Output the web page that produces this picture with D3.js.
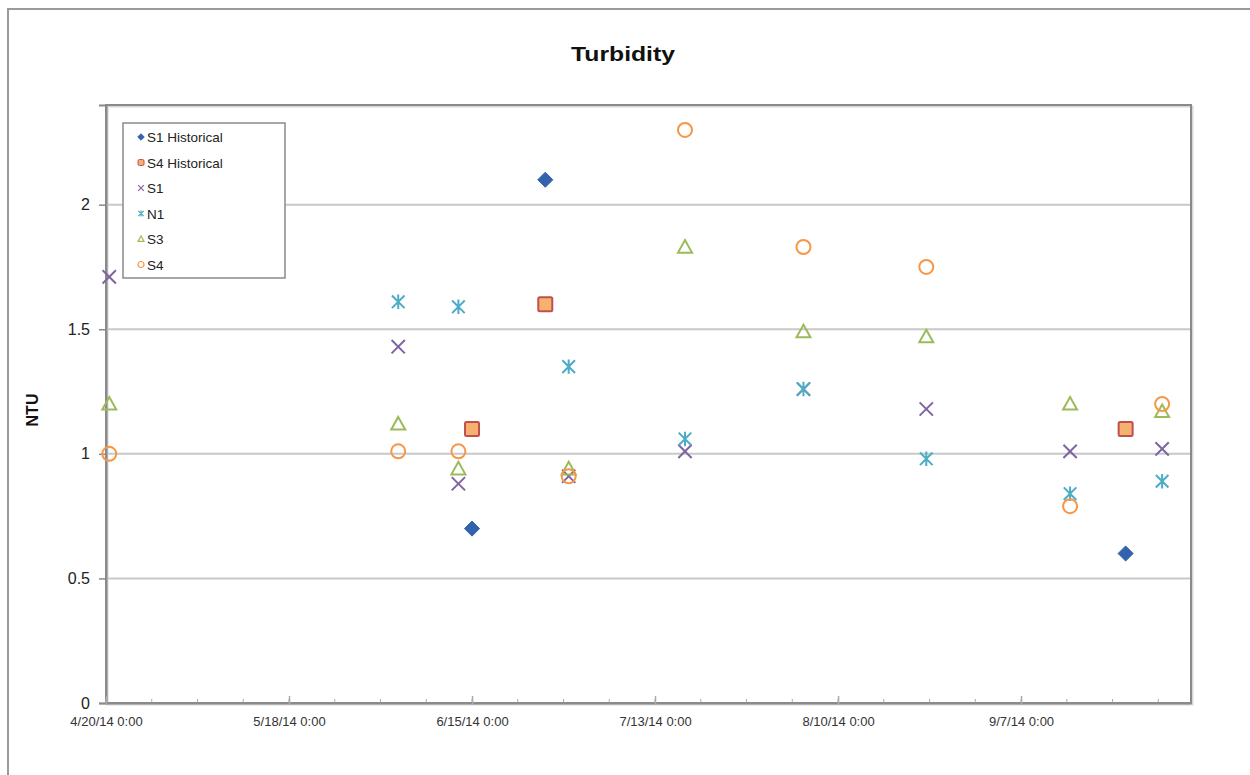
<!DOCTYPE html>
<html>
<head>
<meta charset="utf-8">
<script src="https://cdn.jsdelivr.net/npm/d3@7"></script>
<style>
  html, body { margin: 0; padding: 0; background: #fff; }
  svg { display: block; font-family: "Liberation Sans", Arial, sans-serif; }
</style>
</head>
<body>
<svg id="chart" width="1250" height="775"></svg>
<script>
// ---------- data ----------
const title = "Turbidity";
const yLabel = "NTU";
const sampleDates = ["2014-04-20T12:00", "2014-06-03T17:00", "2014-06-12T22:00", "2014-06-29T19:00",
  "2014-07-17T14:00", "2014-08-04T17:00", "2014-08-23T12:00", "2014-09-14T12:00", "2014-09-28T14:00"];
const historicalDates = ["2014-06-15T00:00", "2014-06-26T05:00", "2014-09-23T00:00"];
const s1HistValues = [0.70, 2.10, 0.60];
const s4HistValues = [1.10, 1.60, 1.10];
const s1Values = [1.71, 1.43, 0.88, 0.91, 1.01, 1.26, 1.18, 1.01, 1.02];
const n1Values = [null, 1.61, 1.59, 1.35, 1.06, 1.26, 0.98, 0.84, 0.89];
const s3Values = [1.20, 1.12, 0.94, 0.94, 1.83, 1.49, 1.47, 1.20, 1.17];
const s4Values = [1.00, 1.01, 1.01, 0.91, 2.30, 1.83, 1.75, 0.79, 1.20];
const yTicks = [0, 0.5, 1, 1.5, 2];
const xTickDates = ["2014-04-20", "2014-05-18", "2014-06-15", "2014-07-13", "2014-08-10", "2014-09-07"];
const xDomain = ["2014-04-20", "2014-10-03"];
const yDomain = [0, 2.4];

// ---------- layout ----------
const svg = d3.select("#chart");
const parse = d3.isoParse;
const plot = { left: 106, right: 1191, top: 105, bottom: 703 };
const x = d3.scaleTime().domain(xDomain.map(d => parse(d))).range([plot.left, plot.right]);
const y = d3.scaleLinear().domain(yDomain).range([plot.bottom, plot.top]);

// outer chart frame
svg.append("rect").attr("x", 8).attr("y", 9).attr("width", 1300).attr("height", 900)
  .attr("fill", "none").attr("stroke", "#9a9a9a").attr("stroke-width", 2);

// title
svg.append("text").attr("x", 623).attr("y", 61).attr("text-anchor", "middle")
  .attr("font-size", 20).attr("font-weight", "bold").attr("fill", "#111")
  .attr("textLength", 104).attr("lengthAdjust", "spacingAndGlyphs").text(title);

// gridlines
svg.append("g").selectAll("line").data(yTicks.filter(d => d > 0)).join("line")
  .attr("x1", plot.left).attr("x2", plot.right)
  .attr("y1", d => y(d)).attr("y2", d => y(d))
  .attr("stroke", "#c8c8c8").attr("stroke-width", 2);

// plot area border (with soft shadow)
svg.append("rect").attr("x", plot.left + 1.5).attr("y", plot.top + 1.5)
  .attr("width", plot.right - plot.left).attr("height", plot.bottom - plot.top)
  .attr("fill", "none").attr("stroke", "#d8d8d8").attr("stroke-width", 2);
svg.append("rect").attr("x", plot.left).attr("y", plot.top)
  .attr("width", plot.right - plot.left).attr("height", plot.bottom - plot.top)
  .attr("fill", "none").attr("stroke", "#8a8a8a").attr("stroke-width", 2);

// y axis
const yAxis = d3.axisLeft(y).tickValues(yTicks).tickSize(7).tickPadding(9)
  .tickFormat(d3.format("~g"));
const gy = svg.append("g").attr("transform", `translate(${plot.left},0)`).call(yAxis);
gy.select(".domain").attr("stroke", "#8a8a8a").attr("stroke-width", 2);
gy.selectAll(".tick line").attr("stroke", "#8a8a8a").attr("stroke-width", 1.5);
gy.selectAll(".tick text").attr("font-size", 16).attr("fill", "#222")
  .attr("font-family", "Liberation Sans, Arial, sans-serif");

// x axis: major ticks every 28 days, minor weekly
const majorTicks = xTickDates.map(d => parse(d));
const minorTicks = d3.timeDay.range(parse(xDomain[0]), parse(xDomain[1]), 7);
svg.append("g").selectAll("line").data(minorTicks).join("line")
  .attr("x1", d => x(d)).attr("x2", d => x(d))
  .attr("y1", plot.bottom - 4).attr("y2", plot.bottom)
  .attr("stroke", "#aaa").attr("stroke-width", 1);
const xAxis = d3.axisBottom(x).tickValues(majorTicks).tickSize(0).tickPadding(14)
  .tickFormat(d => d3.timeFormat("%-m/%-d/%y 0:00")(d));
const gx = svg.append("g").attr("transform", `translate(0,${plot.bottom})`).call(xAxis);
gx.select(".domain").attr("stroke", "#8a8a8a").attr("stroke-width", 2);
gx.selectAll(".tick line").remove();
gx.selectAll(".tick").append("line").attr("y1", -7).attr("y2", 2)
  .attr("stroke", "#aaa").attr("stroke-width", 1.5);
gx.selectAll(".tick text").attr("font-size", 13).attr("fill", "#333")
  .attr("font-family", "Liberation Sans, Arial, sans-serif");

// y-axis title
svg.append("text").attr("transform", "translate(38,410) rotate(-90)")
  .attr("text-anchor", "middle").attr("font-size", 16).attr("font-weight", "bold")
  .attr("fill", "#111").text(yLabel);

// ---------- markers ----------
function xPath(s) { const h = s / 2; return `M${-h},${-h}L${h},${h}M${-h},${h}L${h},${-h}`; }
function starPath(s) { const h = s / 2; return `M${-h},${-h}L${h},${h}M${-h},${h}L${h},${-h}M0,${-h * 1.15}L0,${h * 1.15}`; }

const series = [
  { name: "S1 Historical", dates: historicalDates, values: s1HistValues, kind: "diamond", fill: "#3463ad", stroke: "#3463ad" },
  { name: "S4 Historical", dates: historicalDates, values: s4HistValues, kind: "square", fill: "#f6b06f", stroke: "#c0504d" },
  { name: "S1", dates: sampleDates, values: s1Values, kind: "x", fill: "none", stroke: "#8064a2" },
  { name: "N1", dates: sampleDates, values: n1Values, kind: "star", fill: "none", stroke: "#4bacc6" },
  { name: "S3", dates: sampleDates, values: s3Values, kind: "triangle", fill: "none", stroke: "#9bbb59" },
  { name: "S4", dates: sampleDates, values: s4Values, kind: "circle", fill: "none", stroke: "#f79646" }
];

function drawMarker(g, kind, size, fill, stroke) {
  const h = size / 2;
  if (kind === "diamond") {
    const d = h * 1.08;
    g.append("path").attr("d", `M0,${-d}L${d},0L0,${d}L${-d},0Z`)
      .attr("fill", fill).attr("stroke", stroke).attr("stroke-width", 1);
  } else if (kind === "square") {
    g.append("rect").attr("x", -h).attr("y", -h).attr("width", size).attr("height", size)
      .attr("rx", 1.5).attr("fill", fill).attr("stroke", stroke).attr("stroke-width", size > 8 ? 2 : 1);
  } else if (kind === "x") {
    g.append("path").attr("d", xPath(size * 0.95)).attr("stroke", stroke).attr("stroke-width", size > 8 ? 2 : 1.2).attr("fill", "none");
  } else if (kind === "star") {
    g.append("path").attr("d", starPath(size * 0.9)).attr("stroke", stroke).attr("stroke-width", size > 8 ? 2 : 1.2).attr("fill", "none");
  } else if (kind === "triangle") {
    g.append("path").attr("d", `M0,${-h}L${h},${h * 0.8}L${-h},${h * 0.8}Z`)
      .attr("fill", "none").attr("stroke", stroke).attr("stroke-width", size > 8 ? 2 : 1.2);
  } else if (kind === "circle") {
    g.append("circle").attr("r", h).attr("fill", "none")
      .attr("stroke", stroke).attr("stroke-width", size > 8 ? 2 : 1.2);
  }
}

const markerLayer = svg.append("g");
series.forEach(s => {
  const pts = s.dates.map((d, i) => ({ date: parse(d), v: s.values[i] })).filter(p => p.v != null);
  markerLayer.append("g").selectAll("g").data(pts).join("g")
    .attr("transform", p => `translate(${x(p.date)},${y(p.v)})`)
    .each(function () { drawMarker(d3.select(this), s.kind, 14, s.fill, s.stroke); });
});

// ---------- legend ----------
const legend = svg.append("g").attr("transform", "translate(123,123)");
legend.append("rect").attr("width", 162).attr("height", 155)
  .attr("fill", "#fff").attr("stroke", "#8a8a8a").attr("stroke-width", 1.5);
series.forEach((s, i) => {
  const row = legend.append("g").attr("transform", `translate(18,${14 + i * 25.5})`);
  drawMarker(row, s.kind, 6, s.fill, s.stroke);
  row.append("text").attr("x", 6).attr("y", 5).attr("font-size", 13.5).attr("fill", "#222").text(s.name);
});
</script>
</body>
</html>
